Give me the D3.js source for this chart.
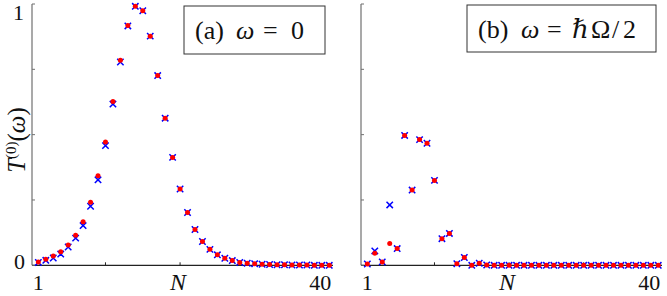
<!DOCTYPE html>
<html>
<head>
<meta charset="utf-8">
<script src="https://cdn.jsdelivr.net/npm/d3@7"></script>
<style>
  body { margin: 0; background: #fff; }
  text { font-family: "Liberation Serif", "DejaVu Serif", serif; fill: #111; }
</style>
</head>
<body>
<div id="chart"></div>
<script>
var width = 667, height = 296;

// N = 1..40
var nVals = [1,2,3,4,5,6,7,8,9,10,11,12,13,14,15,16,17,18,19,20,
             21,22,23,24,25,26,27,28,29,30,31,32,33,34,35,36,37,38,39,40];

// panel (a): omega = 0
var redA = [0.013,0.023,0.036,0.052,0.078,0.115,0.167,0.241,0.343,0.472,
            0.627,0.785,0.918,0.991,0.974,0.877,0.726,0.563,0.413,0.292,
            0.202,0.137,0.091,0.061,0.040,0.027,0.018,0.011,0.008,0.006,
            0.004,0.003,0.002,0.002,0.001,0.001,0.001,0,0,0];
var blueA = [0.011,0.019,0.028,0.043,0.070,0.104,0.152,0.226,0.327,0.458,
             0.617,0.778,0.916,0.991,0.974,0.877,0.726,0.563,0.413,0.292,
             0.202,0.137,0.091,0.061,0.040,0.027,0.018,0.011,0.008,0.006,
             0.004,0.003,0.002,0.002,0.001,0.001,0.001,0,0,0];

// panel (b): omega = hbar Omega / 2
var redB = [0.005,0.046,0.013,0.083,0.064,0.497,0.288,0.481,0.467,0.325,
            0.102,0.122,0.006,0.030,0,0.008,0.001,0,0,0,
            0,0,0,0,0,0,0,0,0,0,
            0,0,0,0,0,0,0,0,0,0];
var blueB = [0.005,0.055,0.013,0.231,0.064,0.497,0.288,0.481,0.467,0.325,
             0.102,0.122,0.006,0.030,0,0.008,0.001,0,0,0,
             0,0,0,0,0,0,0,0,0,0,
             0,0,0,0,0,0,0,0,0,0];

var yTicks = [0, 0.25, 0.5, 0.75, 1];
var xTicks = [10, 20, 30];
var xLabels = [{n: 1, t: "1", dx: 0}, {n: 20, t: "N", dx: -2, it: true}, {n: 40, t: "40", dx: -9}];

var svg = d3.select("#chart").append("svg")
  .attr("width", width)
  .attr("height", height);

var y = d3.scaleLinear().domain([0, 1]).range([265.3, 4]);

function panel(x0, x1, red, blue, box, showY){
  var x = d3.scaleLinear().domain([0.15, 40.5]).range([x0, x1]);
  var g = svg.append("g");

  // axes
  g.append("line")
    .attr("x1", x0).attr("x2", x0)
    .attr("y1", y(1)).attr("y2", y(0))
    .style("stroke", "#707070").style("stroke-width", 1.2);
  g.append("line")
    .attr("x1", x0).attr("x2", x1)
    .attr("y1", y(0)).attr("y2", y(0))
    .style("stroke", "#222").style("stroke-width", 1.2);

  g.selectAll(".yt").data(yTicks).enter()
    .append("line")
    .attr("x1", x0).attr("x2", x0 + 3)
    .attr("y1", function(d){ return y(d); })
    .attr("y2", function(d){ return y(d); })
    .style("stroke", "#707070").style("stroke-width", 1);
  g.selectAll(".xt").data(xTicks).enter()
    .append("line")
    .attr("x1", function(d){ return x(d); })
    .attr("x2", function(d){ return x(d); })
    .attr("y1", y(0)).attr("y2", y(0) - 3)
    .style("stroke", "#222").style("stroke-width", 1);

  g.selectAll(".xl").data(xLabels).enter()
    .append("text")
    .attr("x", function(d){ return x(d.n) + d.dx; })
    .attr("y", 290)
    .attr("text-anchor", "middle")
    .style("font-size", function(d){ return d.it ? "24px" : "22px"; })
    .style("font-style", function(d){ return d.it ? "italic" : "normal"; })
    .text(function(d){ return d.t; });

  if (showY) {
    g.append("text").attr("x", x0 - 8).attr("y", 20)
      .attr("text-anchor", "end").style("font-size", "22px").text("1");
    g.append("text").attr("x", x0 - 7).attr("y", 269)
      .attr("text-anchor", "end").style("font-size", "22px").text("0");
  }

  // blue crosses under red dots
  var s = 3.2;
  g.selectAll(".bx").data(nVals).enter()
    .append("path")
    .attr("d", function(d, i){
      var cx = x(d), cy = y(blue[i]);
      return "M" + (cx - s) + "," + (cy - s) + "L" + (cx + s) + "," + (cy + s) +
             "M" + (cx - s) + "," + (cy + s) + "L" + (cx + s) + "," + (cy - s);
    })
    .style("stroke", "#0000ff").style("stroke-width", 1.5).style("fill", "none");

  g.selectAll(".rd").data(nVals).enter()
    .append("circle")
    .attr("cx", function(d){ return x(d); })
    .attr("cy", function(d, i){ return y(red[i]); })
    .attr("r", 2.5)
    .style("fill", "#ff0000");

  // label box
  g.append("rect")
    .attr("x", box.x).attr("y", box.y).attr("width", box.w).attr("height", box.h)
    .style("fill", "#fff").style("stroke", "#333").style("stroke-width", 1);
  var t = g.append("text")
    .attr("y", box.y + 33)
    .style("font-size", "26px");
  box.parts.forEach(function(p){
    t.append("tspan").attr("x", p[2]).style("font-style", p[1] ? "italic" : "normal").text(p[0]);
  });
}

panel(32, 333, redA, blueA,
  {x: 184, y: 6, w: 141, h: 48,
   parts: [["(a)", false, 195], ["ω", true, 236], ["=", false, 263], ["0", false, 291]]}, true);
panel(361, 662, redB, blueB,
  {x: 467, y: 5, w: 189, h: 47,
   parts: [["(b)", false, 478], ["ω", true, 521], ["=", false, 547], ["ℏ", true, 572], ["Ω", false, 591], ["/", false, 612], ["2", false, 623]]}, false);

// y axis title
var yl = svg.append("text")
  .attr("transform", "translate(25,140) rotate(-90)")
  .attr("text-anchor", "middle")
  .style("font-size", "25px");
yl.append("tspan").style("font-style", "italic").text("T");
yl.append("tspan").attr("dy", -9).style("font-size", "15px").text("(0)");
yl.append("tspan").attr("dy", 9).text("(");
yl.append("tspan").style("font-style", "italic").text("ω");
yl.append("tspan").text(")");
</script>
</body>
</html>
